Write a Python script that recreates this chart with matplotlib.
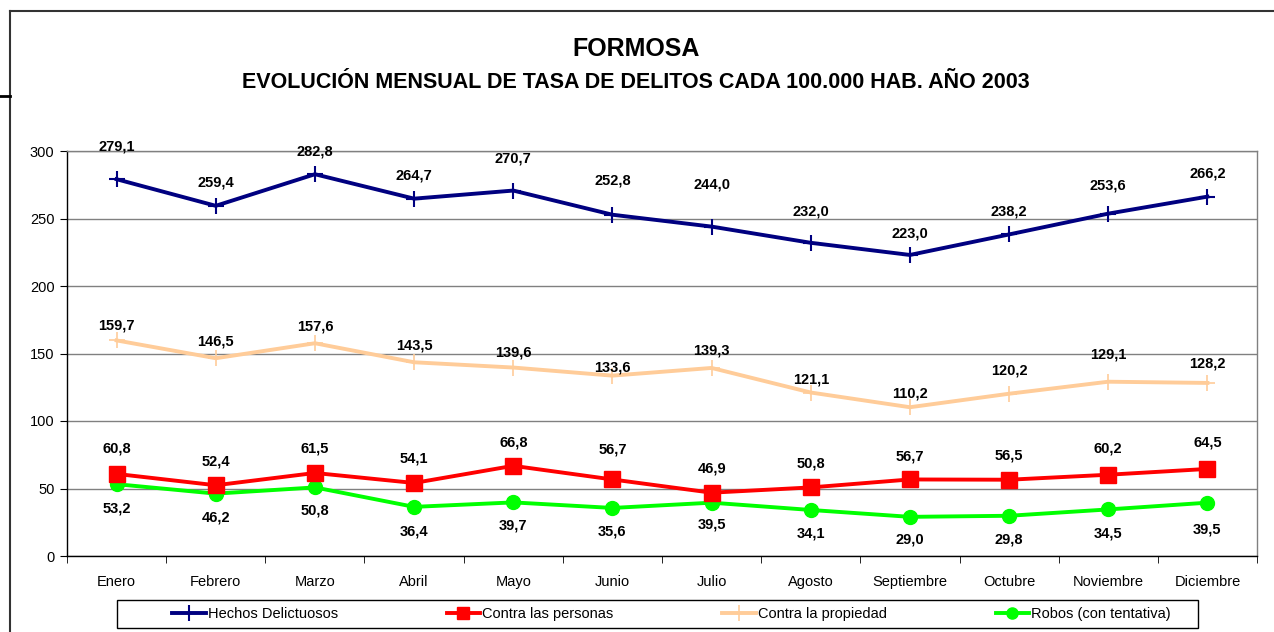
import matplotlib
matplotlib.use("Agg")
import matplotlib.pyplot as plt
from matplotlib.lines import Line2D
from matplotlib.patches import Rectangle
from matplotlib.ticker import FixedLocator, MultipleLocator

plt.rcParams['font.family'] = ['Liberation Sans', 'DejaVu Sans']

months = ["Enero", "Febrero", "Marzo", "Abril", "Mayo", "Junio", "Julio",
          "Agosto", "Septiembre", "Octubre", "Noviembre", "Diciembre"]
hechos = [279.1, 259.4, 282.8, 264.7, 270.7, 252.8, 244.0, 232.0, 223.0, 238.2, 253.6, 266.2]
personas = [60.8, 52.4, 61.5, 54.1, 66.8, 56.7, 46.9, 50.8, 56.7, 56.5, 60.2, 64.5]
propiedad = [159.7, 146.5, 157.6, 143.5, 139.6, 133.6, 139.3, 121.1, 110.2, 120.2, 129.1, 128.2]
robos = [53.2, 46.2, 50.8, 36.4, 39.7, 35.6, 39.5, 34.1, 29.0, 29.8, 34.5, 39.5]

series_names = ["Hechos Delictuosos", "Contra las personas", "Contra la propiedad", "Robos (con tentativa)"]

# label vertical offsets in pixels (style / placement only)
off_hechos = [33, 23, 23, 23, 32, 34, 42, 31, 21, 23, 28, 23]
off_prop = [15, 17, 17, 17, 15, 8, 17, 13, 14, 23, 27, 19]
off_pers = [25, 24, 24, 24, 23, 30, 24, 24, 23, 24, 26, 26]
off_robos = [-24, -24, -23, -25, -23, -24, -22, -24, -23, -24, -24, -27]

W, H = 1274, 632
fig = plt.figure(figsize=(W / 100, H / 100), dpi=100)

# outer frame (cut by image edges)
frame_col = "#333333"
fig.add_artist(Line2D([10 / W, 10 / W], [1 - 11 / H, 0], transform=fig.transFigure, color=frame_col, lw=1.5))
fig.add_artist(Line2D([10 / W, 1], [1 - 11 / H, 1 - 11 / H], transform=fig.transFigure, color=frame_col, lw=1.5))
fig.add_artist(Line2D([0, 10 / W], [1 - 96 / H, 1 - 96 / H], transform=fig.transFigure, color="black", lw=2))

left, right, top, bottom = 67, 1257, 151, 556
ax = fig.add_axes([left / W, 1 - bottom / H, (right - left) / W, (bottom - top) / H])

x = list(range(len(months)))
ax.plot(x, hechos, color="#000080", lw=2.8, marker="+", ms=11, mew=1.5, zorder=5)
ax.plot(x, propiedad, color="#FFCC99", lw=2.8, marker="+", ms=11, mew=1.2, zorder=4)
ax.plot(x, personas, color="#FF0000", lw=2.8, marker="s", ms=11, zorder=6)
ax.plot(x, robos, color="#00FF00", lw=2.8, marker="o", ms=10, zorder=5)

def labels(vals, offs):
    for xi, v, o in zip(x, vals, offs):
        ax.annotate(f"{v:.1f}".replace(".", ","), (xi, v), xytext=(0, o),
                    textcoords="offset pixels", ha="center", va="center",
                    fontsize=10.5, fontweight="bold", color="black", zorder=10)

labels(hechos, off_hechos)
labels(propiedad, off_prop)
labels(personas, off_pers)
labels(robos, off_robos)

ax.set_xlim(-0.5, len(months) - 0.5)
ax.set_ylim(0, 300)
ax.yaxis.set_major_locator(MultipleLocator(50))
ax.grid(axis="y", color="#808080", lw=1)
ax.set_axisbelow(True)
ax.set_xticks(x)
ax.set_xticklabels(months, fontsize=10.5)
ax.xaxis.set_minor_locator(FixedLocator([i - 0.5 for i in range(len(months) + 1)]))
ax.tick_params(axis="x", which="major", length=0, pad=14)
ax.tick_params(axis="x", which="minor", length=5, direction="out", color="black")
ax.tick_params(axis="y", length=5, direction="out", labelsize=10.5, pad=4)
ax.spines["left"].set_color("black")
ax.spines["bottom"].set_color("black")
ax.spines["top"].set_color("#808080")
ax.spines["right"].set_color("#808080")
for s in ax.spines.values():
    s.set_linewidth(1)

fig.text(636 / W, 1 - 49 / H, "FORMOSA", ha="center", va="center", fontsize=18, fontweight="bold")
fig.text(636 / W, 1 - 83 / H, "EVOLUCIÓN MENSUAL DE TASA DE DELITOS CADA 100.000 HAB. AÑO 2003",
         ha="center", va="center", fontsize=15.5, fontweight="bold")

# legend frame
fig.add_artist(Rectangle((117 / W, 1 - 628 / H), (1198 - 117) / W, 28 / H,
                         transform=fig.transFigure, fill=False, edgecolor="black", lw=1))
handles = [
    Line2D([], [], color="#000080", lw=2.8, marker="+", ms=11, mew=1.5),
    Line2D([], [], color="#FF0000", lw=2.8, marker="s", ms=8),
    Line2D([], [], color="#FFCC99", lw=2.8, marker="+", ms=11, mew=1.2),
    Line2D([], [], color="#00FF00", lw=2.8, marker="o", ms=8),
]
leg = fig.legend(handles, series_names, loc="center left", bbox_to_anchor=(172 / W, 1 - 614 / H),
                 ncol=4, fontsize=10.5, frameon=False,
                 handlelength=2.3, handletextpad=0.15, columnspacing=7.45,
                 borderpad=0, borderaxespad=0)

fig.savefig("out.png", dpi=100)
